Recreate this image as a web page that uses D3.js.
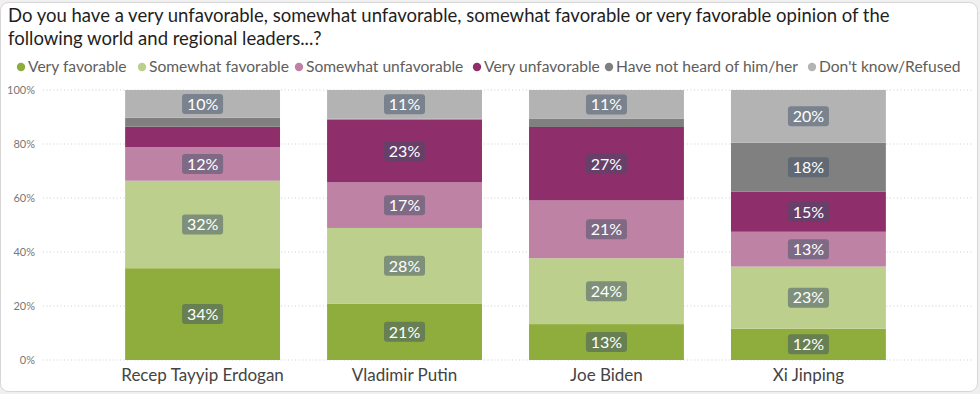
<!DOCTYPE html>
<html><head><meta charset="utf-8">
<script src="https://cdn.jsdelivr.net/npm/d3@7"></script>
<style>
html,body{margin:0;padding:0;background:#f0f0f0;}
svg{display:block;}
</style></head>
<body>
<svg id="chart" width="980" height="394"></svg>
<script>
const titleLines = ["Do you have a very unfavorable, somewhat unfavorable, somewhat favorable or very favorable opinion of the", "following world and regional leaders...?"];
const leaders = ["Recep Tayyip Erdogan", "Vladimir Putin", "Joe Biden", "Xi Jinping"];
const seriesNames = ["Very favorable", "Somewhat favorable", "Somewhat unfavorable", "Very unfavorable", "Have not heard of him/her", "Don't know/Refused"];
const seriesColors = ["#8FAD3C", "#BCCF8D", "#BE82A5", "#8E2E6B", "#808080", "#B3B3B3"];
const veryFavorable      = [34.0, 20.9, 13.3, 11.6];
const somewhatFavorable  = [32.4, 28.0, 24.4, 23.0];
const somewhatUnfav      = [12.4, 16.9, 21.4, 12.9];
const veryUnfav          = [7.6, 23.2, 27.2, 14.8];
const notHeard           = [3.3, 0.4, 3.0, 18.2];
const dontKnow           = [10.3, 10.6, 10.7, 19.5];
const yTicks = [0, 20, 40, 60, 80, 100];

const seriesValues = [veryFavorable, somewhatFavorable, somewhatUnfav, veryUnfav, notHeard, dontKnow];
const FONT = "Lato, 'Open Sans', sans-serif";

const svg = d3.select("#chart");
// card
svg.append("rect").attr("x", 0.5).attr("y", 2.5).attr("width", 977).attr("height", 389)
  .attr("rx", 8).attr("fill", "#fff").attr("stroke", "#d6d6d6");

// title
svg.append("g").selectAll("text").data(titleLines).join("text")
  .attr("x", 8).attr("y", (d, i) => 22 + i * 23)
  .attr("font-family", FONT).attr("font-size", 18.5).attr("fill", "#1f1f1f")
  .text(d => d);

// legend
const legendX = [21, 142, 299, 477, 609, 812];
const lg = svg.append("g").selectAll("g").data(seriesNames).join("g")
  .attr("transform", (d, i) => `translate(${legendX[i]},67)`);
lg.append("circle").attr("r", 4.2).attr("fill", (d, i) => seriesColors[i]);
lg.append("text").attr("x", 7).attr("y", 5.3).attr("font-family", FONT).attr("font-size", 15.6)
  .attr("fill", "#605E5C").text(d => d);

// scales
const x = d3.scaleBand().domain(leaders).range([101.5, 909.5]).paddingInner(0.233).paddingOuter(0.117);
const y = d3.scaleLinear().domain([0, 100]).range([360, 90]);

// gridlines
svg.append("g").selectAll("line").data(yTicks).join("line")
  .attr("x1", 43).attr("x2", 972).attr("y1", d => y(d)).attr("y2", d => y(d))
  .attr("stroke", "#cfcfcf").attr("stroke-dasharray", "1,2.5");

// y axis
const yAxis = d3.axisLeft(y).tickValues(yTicks).tickFormat(d => d + "%").tickSize(0).tickPadding(0);
const yg = svg.append("g").attr("transform", "translate(35,0)").call(yAxis);
yg.select(".domain").remove();
yg.selectAll("text").attr("font-family", FONT).attr("font-size", 11).attr("fill", "#777");

// stacks
const rows = leaders.map((l, i) => {
  const o = { leader: l };
  seriesNames.forEach((s, k) => o[s] = seriesValues[k][i]);
  return o;
});
const stacked = d3.stack().keys(seriesNames)(rows);

const layers = svg.append("g").selectAll("g").data(stacked).join("g")
  .attr("fill", (d, i) => seriesColors[i]);
layers.selectAll("rect").data(d => d).join("rect")
  .attr("x", d => x(d.data.leader)).attr("width", x.bandwidth())
  .attr("y", d => y(d[1])).attr("height", d => y(d[0]) - y(d[1]));

// labels
const labels = [];
stacked.forEach((layer, k) => layer.forEach(d => {
  const v = d[1] - d[0];
  if (v >= 10) labels.push({ leader: d.data.leader, v, mid: (d[0] + d[1]) / 2 });
}));
const lab = svg.append("g").selectAll("g").data(labels).join("g")
  .attr("transform", d => `translate(${x(d.leader) + x.bandwidth() / 2},${y(d.mid)})`);
lab.append("rect").attr("x", -20.5).attr("y", -10).attr("width", 41).attr("height", 20).attr("rx", 3)
  .attr("fill", "rgb(63,81,103)").attr("fill-opacity", 0.5);
lab.append("text").attr("text-anchor", "middle").attr("y", 5.8)
  .attr("font-family", FONT).attr("font-size", 16).attr("fill", "#fff")
  .text(d => Math.round(d.v) + "%");

// x axis labels
const xAxis = d3.axisBottom(x).tickSize(0).tickPadding(0);
const xg = svg.append("g").attr("transform", "translate(0,369)").call(xAxis);
xg.select(".domain").remove();
xg.selectAll("text").attr("font-family", FONT).attr("font-size", 17).attr("fill", "#444")
  .attr("dy", "0.71em");
</script>
</body></html>
